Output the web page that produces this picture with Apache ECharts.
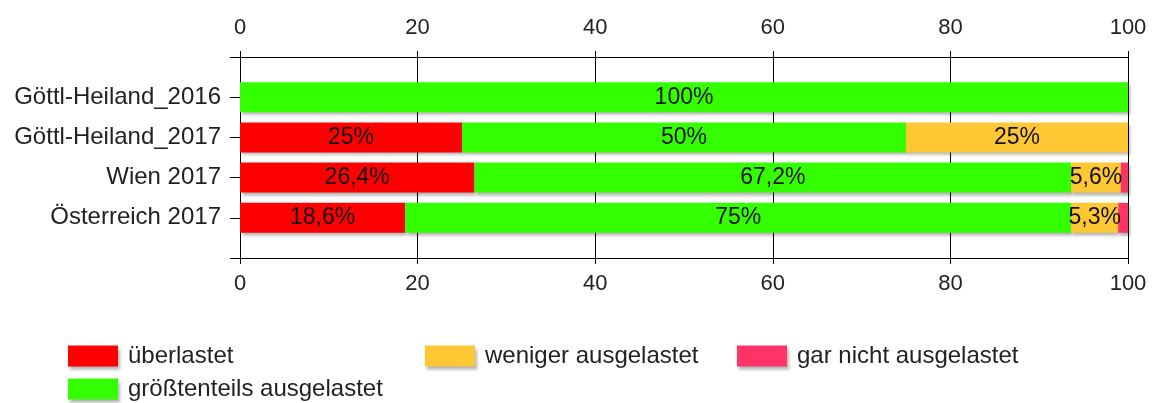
<!DOCTYPE html>
<html>
<head>
<meta charset="utf-8">
<script src="https://cdn.jsdelivr.net/npm/echarts@6/dist/echarts.min.js"></script>
<style>
html,body{margin:0;padding:0;background:#fff;}
#main{width:1157px;height:403px;}
</style>
</head>
<body>
<div id="main"></div>
<script>
var categories = ['Göttl-Heiland_2016', 'Göttl-Heiland_2017', 'Wien 2017', 'Österreich 2017'];
var ueberlastet = [0, 25, 26.4, 18.6];
var groesstenteils = [100, 50, 67.2, 75];
var weniger = [0, 25, 5.6, 5.3];
var garNicht = [0, 0, 0.8, 1.1];
var xTicks = [0, 20, 40, 60, 80, 100];

var txtColor = '#222';
var font = 'Liberation Sans, Arial, sans-serif';

// leere Kategorie oben und unten, damit die Achse von 0 bis 5 läuft
function pad(arr) {
    return ['-'].concat(arr).concat(['-']);
}
var yData = [''].concat(categories).concat(['']);

var barShadow = {
    shadowColor: 'rgba(0,0,0,0.3)',
    shadowBlur: 3,
    shadowOffsetX: 2,
    shadowOffsetY: 3
};

function makeSeries(name, values, color, showLabel) {
    return {
        name: name,
        type: 'bar',
        stack: 'total',
        barWidth: 30,
        itemStyle: Object.assign({ color: color }, barShadow),
        label: {
            show: showLabel,
            position: 'inside',
            color: '#111',
            fontSize: 23,
            fontFamily: font,
            formatter: function (p) {
                if (!p.value) return '';
                return String(p.value).replace('.', ',') + '%';
            }
        },
        data: pad(values)
    };
}

var xAxisBase = {
    type: 'value',
    min: 0,
    max: 100,
    interval: 20,
    axisLine: { show: true, lineStyle: { color: '#000', width: 1 } },
    axisTick: { show: true, length: 6, lineStyle: { color: '#000' } },
    axisLabel: {
        color: txtColor,
        fontSize: 22,
        fontFamily: font,
        formatter: function (v) { return xTicks.indexOf(v) >= 0 ? String(v) : ''; }
    }
};

function legendItem(name, left, top) {
    return {
        data: [name],
        left: left,
        top: top,
        icon: 'rect',
        itemWidth: 50,
        itemHeight: 21,
        padding: 0,
        itemStyle: barShadow,
        textStyle: {
            color: txtColor, fontSize: 24, fontFamily: font,
            lineHeight: 21, padding: [0, 0, 0, 5]
        }
    };
}

var option = {
    animation: false,
    backgroundColor: '#fff',
    grid: { left: 240, right: 29, top: 57, bottom: 145 },
    legend: [
        legendItem('überlastet', 68, 344),
        legendItem('größtenteils ausgelastet', 68, 377),
        legendItem('weniger ausgelastet', 425, 344),
        legendItem('gar nicht ausgelastet', 737, 344)
    ],
    xAxis: [
        Object.assign({}, xAxisBase, {
            position: 'top',
            axisLabel: Object.assign({}, xAxisBase.axisLabel, { margin: 18 }),
            splitLine: { show: true, lineStyle: { color: '#000', width: 1 } }
        }),
        Object.assign({}, xAxisBase, {
            position: 'bottom',
            axisLabel: Object.assign({}, xAxisBase.axisLabel, { margin: 15 }),
            splitLine: { show: false }
        })
    ],
    yAxis: {
        type: 'category',
        inverse: true,
        boundaryGap: false,
        data: yData,
        axisLine: { show: true, lineStyle: { color: '#000', width: 1 } },
        axisTick: { show: true, length: 10, lineStyle: { color: '#000' } },
        axisLabel: {
            color: txtColor,
            fontSize: 24,
            fontFamily: font,
            margin: 19,
            interval: 0
        },
        splitLine: { show: false }
    },
    series: [
        makeSeries('überlastet', ueberlastet, '#ff0000', true),
        makeSeries('größtenteils ausgelastet', groesstenteils, '#33ff00', true),
        makeSeries('weniger ausgelastet', weniger, '#ffc733', true),
        makeSeries('gar nicht ausgelastet', garNicht, '#ff3366', false)
    ]
};

var chart = echarts.init(document.getElementById('main'));
chart.setOption(option);
</script>
</body>
</html>
